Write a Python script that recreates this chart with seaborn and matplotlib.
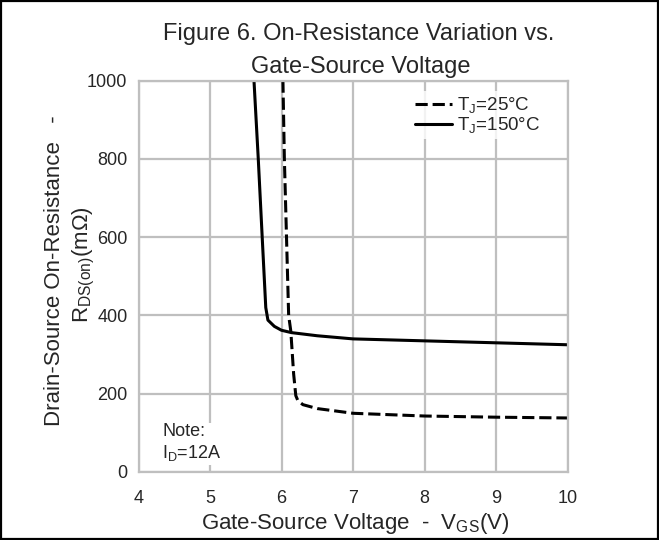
import matplotlib
matplotlib.use("Agg")
import matplotlib.pyplot as plt
import seaborn as sns
import pandas as pd
from matplotlib.patches import Rectangle

# ---- data ----
vgs_25 = [6.02, 6.04, 6.07, 6.10, 6.13, 6.17, 6.20, 6.23, 6.30, 6.50, 7.0, 8.0, 9.0, 10.0]
rds_25 = [1000, 800, 600, 400, 360, 250, 195, 182, 172, 162, 150, 143, 140, 138]

vgs_150 = [5.615, 5.675, 5.73, 5.78, 5.81, 5.90, 6.00, 6.14, 6.50, 7.0, 8.0, 9.0, 10.0]
rds_150 = [1000, 800, 600, 420, 388, 372, 362, 356, 348, 340, 335, 330, 325]

x_ticks = [4, 5, 6, 7, 8, 9, 10]
y_ticks = [0, 200, 400, 600, 800, 1000]

label_25 = "T$_{J}$=25°C"
label_150 = "T$_{J}$=150°C"

sns.set_style("white")
plt.rcParams['font.family'] = ['Liberation Sans', 'DejaVu Sans']
plt.rcParams['mathtext.default'] = 'regular'

df25 = pd.DataFrame({"Vgs": vgs_25, "Rds": rds_25})
df150 = pd.DataFrame({"Vgs": vgs_150, "Rds": rds_150})

fig = plt.figure(figsize=(6.59, 5.40), dpi=100)
ax = fig.add_axes([138.5 / 659, 68 / 540, 429 / 659, 391.5 / 540])

grid_c = "#BFBFBF"
ax.set_xlim(4, 10)
ax.set_ylim(0, 1000)
ax.set_xticks(x_ticks)
ax.set_yticks(y_ticks)
ax.grid(True, color=grid_c, lw=1.6)
ax.set_axisbelow(True)
for s in ax.spines.values():
    s.set_color(grid_c)
    s.set_linewidth(1.6)
ax.tick_params(axis='both', length=0, labelsize=13)
ax.tick_params(axis='x', pad=13)
ax.tick_params(axis='y', pad=8)

sns.lineplot(data=df25, x="Vgs", y="Rds", ax=ax, color="black", lw=2.2,
             linestyle=(0, (4, 1.6)), label=label_25, sort=False)
sns.lineplot(data=df150, x="Vgs", y="Rds", ax=ax, color="black", lw=2.2,
             label=label_150, sort=False)
ax.set_xlabel("")
ax.set_ylabel("")

leg = ax.legend(loc="upper left", bbox_to_anchor=(0.635, 0.972), frameon=True,
                fontsize=13.5, handlelength=2.0, handletextpad=0.25,
                labelspacing=0.0, borderpad=0.2, borderaxespad=0)
leg.get_frame().set_facecolor("white")
leg.get_frame().set_edgecolor("none")

ax.text(4.33, 22, "Note:\nI$_{D}$=12A", fontsize=13, ha="left", va="bottom",
        bbox=dict(facecolor="white", edgecolor="none", pad=1))

# title
fig.text(0.545, 1 - 34 / 540, "Figure 6. On-Resistance Variation vs.", fontsize=17,
         ha="center", va="center")
fig.text(0.547, 1 - 67 / 540, "Gate-Source Voltage", fontsize=17,
         ha="center", va="center")

# axis labels
fig.text(355 / 659, 1 - 523 / 540, "Gate-Source Voltage  -  V$_{GS}$(V)", fontsize=16,
         ha="center", va="center")
fig.text(54 / 659, 1 - 271 / 540, "Drain-Source On-Resistance   -", fontsize=16,
         ha="center", va="center", rotation=90)
fig.text(84 / 659, 1 - 265 / 540, "R$_{DS(on)}$(mΩ)", fontsize=16,
         ha="center", va="center", rotation=90)

# figure border
fig.patches.append(Rectangle((0.0015, 0.002), 0.997, 0.996, transform=fig.transFigure,
                             fill=False, edgecolor="black", lw=1.6))

fig.savefig("out.png", dpi=100)
